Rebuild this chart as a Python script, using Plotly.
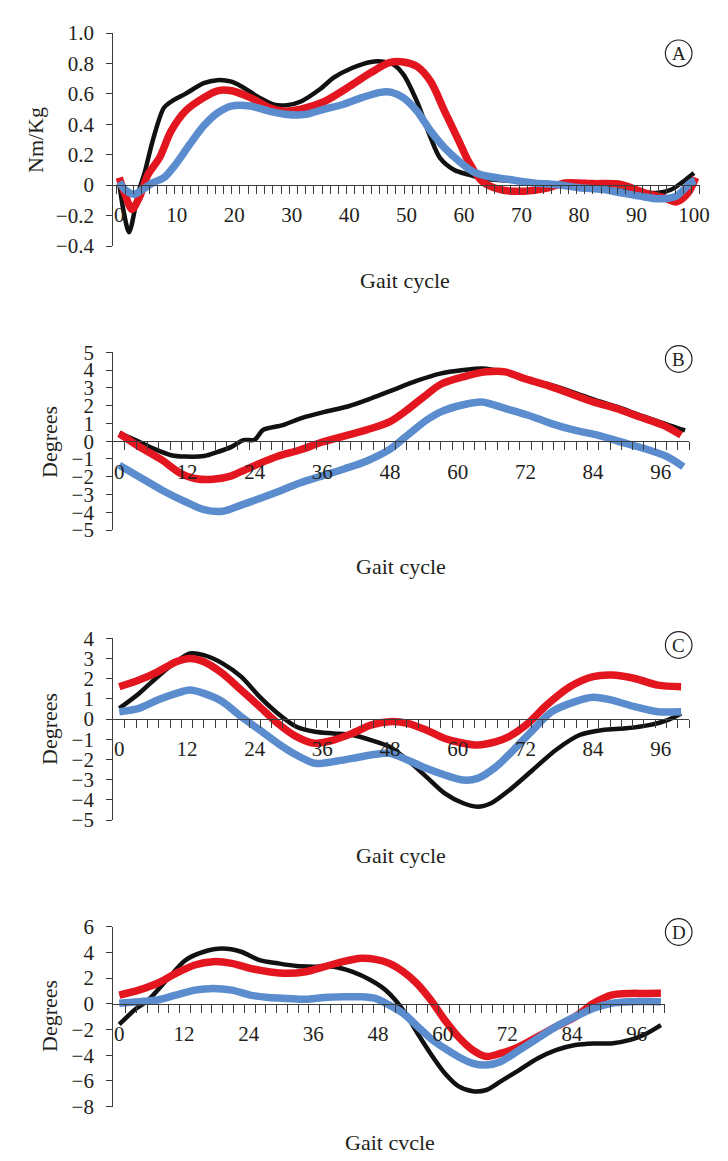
import plotly.graph_objects as go

W, H = 728, 1161
OFF = 8  # page body margin of the browser

# ---------------- DATA ----------------
# Panel A (Nm/Kg)
A_black_x = [0, 0.7, 1.7, 3.3, 4.4, 5.8, 7.8, 9.5, 11.5, 14.7, 17, 19.5, 21.2, 24.4, 26.8, 29.2, 31.6, 34.9, 37.3, 40.5, 43.8, 46.2, 47.8, 49.4, 51.8, 54.2, 55.8, 58.3, 60.7, 63.9, 70, 80, 88, 93.8, 96, 98, 100]
A_black_y = [0.01, -0.16, -0.31, -0.05, 0.08, 0.29, 0.51, 0.56, 0.6, 0.67, 0.69, 0.68, 0.65, 0.575, 0.53, 0.526, 0.55, 0.63, 0.706, 0.77, 0.81, 0.81, 0.79, 0.73, 0.55, 0.31, 0.18, 0.10, 0.07, 0.04, 0.025, 0.0, -0.04, -0.05, -0.03, 0.02, 0.08]
A_red_x = [0, 1, 2.2, 3.5, 5, 7, 9, 11.5, 14.7, 17.1, 19.5, 22.8, 26, 28.4, 31.6, 35.7, 39.7, 43.8, 47, 49.4, 51.8, 54.2, 56.6, 59.1, 60.7, 63.1, 66.3, 70.4, 74.4, 77.6, 82.5, 87.3, 91.4, 94.6, 97, 99, 100.3]
A_red_y = [0.05, -0.06, -0.16, -0.08, 0.07, 0.18, 0.355, 0.487, 0.575, 0.62, 0.62, 0.575, 0.51, 0.487, 0.5, 0.55, 0.64, 0.74, 0.805, 0.81, 0.78, 0.68, 0.487, 0.29, 0.16, 0.026, -0.03, -0.04, -0.02, 0.015, 0.01, 0.005, -0.05, -0.08, -0.11, -0.05, 0.05]
A_blue_x = [0, 1, 2.5, 4, 5.8, 7.8, 9.8, 12.3, 14.7, 17.1, 19.5, 22.8, 26, 29.2, 32.4, 35.7, 38.9, 42.2, 45.4, 47.4, 49.4, 51.8, 54.2, 56.6, 59.1, 61.5, 63.9, 67.9, 71.9, 76, 80, 84, 87.3, 90.6, 93.8, 97, 99.4, 100.2]
A_blue_y = [0.02, -0.03, -0.06, -0.03, 0.015, 0.05, 0.136, 0.27, 0.39, 0.475, 0.52, 0.52, 0.487, 0.465, 0.465, 0.5, 0.53, 0.575, 0.61, 0.61, 0.575, 0.487, 0.355, 0.245, 0.158, 0.09, 0.06, 0.037, 0.015, 0.004, -0.017, -0.028, -0.05, -0.072, -0.09, -0.07, 0.015, 0.03]

# Panel B (Degrees)
B_black_x = [0, 3.5, 6, 9.2, 11.7, 15, 17.5, 19.9, 22, 24, 25.5, 29, 32.3, 36.4, 40.5, 44.6, 48.7, 52.8, 56.9, 61, 64.3, 68, 72, 76, 80, 84, 88, 92, 96, 98, 100.3]
B_black_y = [0.45, -0.04, -0.41, -0.79, -0.87, -0.84, -0.6, -0.32, 0.06, 0.08, 0.63, 0.9, 1.3, 1.65, 1.95, 2.4, 2.9, 3.4, 3.8, 4.0, 4.09, 3.9, 3.5, 3.2, 2.8, 2.35, 1.95, 1.5, 1.05, 0.85, 0.6]
B_red_x = [0, 3.5, 7.6, 10.9, 13.4, 16.6, 19.9, 22.4, 24.9, 28.1, 32, 36, 40, 44, 48, 51, 54, 57, 61, 65, 68.4, 71.7, 75.8, 79.9, 84, 88.1, 92.2, 96.4, 99.6]
B_red_y = [0.43, -0.3, -1.07, -1.82, -2.1, -2.15, -1.95, -1.6, -1.25, -0.85, -0.5, -0.05, 0.3, 0.65, 1.1, 1.75, 2.5, 3.2, 3.62, 3.9, 3.9, 3.53, 3.15, 2.68, 2.21, 1.84, 1.37, 0.9, 0.34]
B_blue_x = [0, 3.5, 7.6, 11.7, 15, 18.3, 21.6, 24.9, 28.1, 32, 36, 40, 44, 48, 51.5, 54.5, 57, 61, 64.3, 68.4, 72.5, 76.6, 80.7, 84.8, 88.9, 93, 97.2, 100]
B_blue_y = [-1.35, -2.0, -2.76, -3.41, -3.85, -3.95, -3.6, -3.23, -2.85, -2.35, -1.95, -1.55, -1.1, -0.45, 0.44, 1.19, 1.65, 2.05, 2.2, 1.84, 1.46, 0.99, 0.62, 0.34, -0.04, -0.41, -0.88, -1.44]

# Panel C (Degrees)
C_black_x = [0, 3.5, 6.8, 10.1, 12.5, 15, 18.3, 21.6, 24.9, 28.1, 31.4, 34.7, 38, 41.3, 44.6, 47.9, 51.1, 54.4, 57.7, 61, 63.5, 65.9, 69.2, 73.3, 77.4, 81.6, 85.7, 89.8, 93.9, 97.2, 99.6]
C_black_y = [0.53, 1.27, 2.1, 2.84, 3.25, 3.17, 2.76, 2.1, 1.1, 0.28, -0.38, -0.63, -0.71, -0.79, -1.04, -1.37, -2.03, -2.85, -3.68, -4.17, -4.34, -4.17, -3.51, -2.52, -1.53, -0.79, -0.54, -0.46, -0.3, -0.05, 0.28]
C_red_x = [0, 3.5, 6.8, 10.1, 12.5, 15, 18.3, 21.6, 24.9, 28.1, 31.4, 34.7, 38, 41.3, 44.6, 47.9, 51.1, 54.4, 57.7, 61, 63.5, 66.8, 69.2, 72.5, 75.8, 79.9, 84, 87.3, 91.4, 95.5, 99.6]
C_red_y = [1.6, 1.93, 2.34, 2.84, 3.0, 2.84, 2.26, 1.44, 0.61, -0.21, -0.87, -1.2, -1.04, -0.71, -0.3, -0.13, -0.21, -0.54, -0.96, -1.2, -1.29, -1.12, -0.85, -0.2, 0.7, 1.6, 2.1, 2.18, 2.01, 1.68, 1.6]
C_blue_x = [0, 3.5, 6.8, 10.1, 12.5, 15, 18.3, 21.6, 24.9, 28.1, 31.4, 34.7, 38, 41.3, 44.6, 47.9, 51.1, 54.4, 57.7, 61, 63.5, 66.8, 70, 73.3, 76.6, 80.7, 84, 87.3, 91.4, 95.5, 99.6]
C_blue_y = [0.36, 0.53, 0.94, 1.27, 1.44, 1.27, 0.86, 0.12, -0.54, -1.2, -1.78, -2.19, -2.11, -1.95, -1.78, -1.7, -2.03, -2.44, -2.77, -3.02, -2.94, -2.36, -1.5, -0.55, 0.35, 0.85, 1.08, 0.94, 0.61, 0.36, 0.36]

# Panel D (Degrees)
D_black_x = [0, 3.2, 5.4, 8.8, 12.3, 15.7, 19.1, 22.6, 26, 29.4, 32.9, 36.3, 39.8, 43.2, 46.6, 49.6, 52.7, 55.2, 57.8, 60.4, 62.9, 65.6, 68.1, 70.7, 74.2, 77.6, 81, 84.6, 88, 91.3, 94.8, 97.4, 100.5]
D_black_y = [-1.6, -0.35, 0.3, 1.85, 3.4, 4.05, 4.3, 4.05, 3.4, 3.15, 2.94, 2.89, 2.89, 2.5, 1.85, 1.0, -0.5, -2.2, -3.9, -5.4, -6.4, -6.8, -6.7, -6.05, -5.15, -4.25, -3.6, -3.2, -3.08, -3.08, -2.8, -2.4, -1.65]
D_red_x = [0, 3.6, 7.1, 10.5, 14, 17.4, 20.9, 24.3, 27.7, 31.2, 34.6, 38.1, 41.5, 44.9, 47.5, 50.1, 52.7, 55.2, 57.8, 60.4, 62.9, 65.6, 68.1, 70.7, 74.2, 77.6, 81, 84.6, 88, 91.3, 94.8, 97.4, 100.5]
D_red_y = [0.68, 1.07, 1.6, 2.37, 3.02, 3.28, 3.15, 2.76, 2.5, 2.37, 2.5, 2.89, 3.28, 3.54, 3.46, 3.15, 2.5, 1.6, 0.3, -1.26, -2.56, -3.6, -4.1, -3.86, -3.34, -2.56, -1.78, -1.0, 0.04, 0.68, 0.81, 0.81, 0.82]
D_blue_x = [0, 3.6, 7.1, 10.5, 14, 17.4, 20.9, 24.3, 27.7, 31.2, 34.6, 38.1, 41.5, 44.9, 47.5, 50.1, 52.7, 55.2, 57.8, 60.4, 62.9, 65.6, 68.1, 70.7, 74.2, 77.6, 81, 84.6, 88, 91.3, 94.8, 100.5]
D_blue_y = [0.04, 0.17, 0.3, 0.68, 1.07, 1.2, 1.07, 0.68, 0.5, 0.42, 0.35, 0.5, 0.55, 0.55, 0.42, -0.1, -0.74, -1.7, -2.7, -3.47, -4.11, -4.63, -4.76, -4.5, -3.6, -2.69, -1.78, -1.0, -0.35, 0.04, 0.17, 0.17]

# Axis labels / ticks
A_yticks = [-0.4, -0.2, 0, 0.2, 0.4, 0.6, 0.8, 1.0]
A_ytext = ["\u22120.4", "\u22120.2", "0", "0.2", "0.4", "0.6", "0.8", "1.0"]
B_yticks = [-5, -4, -3, -2, -1, 0, 1, 2, 3, 4, 5]
C_yticks = [-5, -4, -3, -2, -1, 0, 1, 2, 3, 4]
D_yticks = [-8, -6, -4, -2, 0, 2, 4, 6]
A_xticks = [0, 10, 20, 30, 40, 50, 60, 70, 80, 90, 100]
BCD_xticks = [0, 12, 24, 36, 48, 60, 72, 84, 96]

panel_letters = ["A", "B", "C", "D"]
y_titles = ["Nm/Kg", "Degrees", "Degrees", "Degrees"]
x_titles = ["Gait cycle", "Gait cycle", "Gait cycle", "Gait cvcle"]

# ---------------- STYLE / LAYOUT ----------------
FONT = "Liberation Serif, Times New Roman, serif"
TXT = "#231f20"
AX = "#3c3c3c"
COL_BLACK = "#111111"
COL_RED = "#E3161F"
COL_BLUE = "#5B8DCE"

FW, FH = W - OFF, H - OFF  # figure size so that figure + page margin == window


def fy(p):
    return 1 - (p - OFF) / FH


def fx(p):
    return (p - OFF) / FW


def minus(v):
    s = f"{v:g}"
    return s.replace("-", "\u2212")


panels = [
    dict(series=[(A_black_x, A_black_y), (A_red_x, A_red_y), (A_blue_x, A_blue_y)],
         ypix=(33, 246), yr=(-0.4, 1.0), yt=A_yticks, ytt=A_ytext,
         xpix=(113.3, 699.7), xr=(-1.04, 101.0), xt=A_xticks, tickstep=10 / 7,
         xtitle=(405, 281), ytitle=(35, 140), circ=(678.7, 53.3)),
    dict(series=[(B_black_x, B_black_y), (B_red_x, B_red_y), (B_blue_x, B_blue_y)],
         ypix=(352.3, 530), yr=(-5, 5), yt=B_yticks, ytt=[minus(v) for v in B_yticks],
         xpix=(113.3, 689), xr=(-1.06, 101.0), xt=BCD_xticks, tickstep=2,
         xtitle=(401, 566), ytitle=(49, 442), circ=(678.7, 359)),
    dict(series=[(C_black_x, C_black_y), (C_red_x, C_red_y), (C_blue_x, C_blue_y)],
         ypix=(638.3, 820), yr=(-5, 4), yt=C_yticks, ytt=[minus(v) for v in C_yticks],
         xpix=(113.3, 689), xr=(-1.06, 101.0), xt=BCD_xticks, tickstep=2,
         xtitle=(401, 855), ytitle=(49, 729), circ=(678.7, 645)),
    dict(series=[(D_black_x, D_black_y), (D_red_x, D_red_y), (D_blue_x, D_blue_y)],
         ypix=(926.7, 1106.7), yr=(-8, 6), yt=D_yticks, ytt=[minus(v) for v in D_yticks],
         xpix=(113.3, 664.7), xr=(-1.11, 101.2), xt=BCD_xticks, tickstep=2,
         xtitle=(390, 1142), ytitle=(49, 1016), circ=(678.7, 932)),
]

colors = [COL_BLACK, COL_RED, COL_BLUE]
widths = [4.5, 7.5, 7.5]

fig = go.Figure()
layout = dict(template="none", width=FW, height=FH,
              margin=dict(l=0, r=0, t=0, b=0, pad=0, autoexpand=False),
              paper_bgcolor="white", plot_bgcolor="white", showlegend=False,
              font=dict(family=FONT, color=TXT))
shapes = []
annotations = []

for i, p in enumerate(panels):
    n = i + 1
    xa = "x" if n == 1 else f"x{n}"
    ya = "y" if n == 1 else f"y{n}"
    xt_name = f"x{n + 4}"  # overlay axis (same domain & range) carrying the small tick marks
    for k, ((sx, sy), c, w) in enumerate(zip(p["series"], colors, widths)):
        fig.add_trace(go.Scatter(x=sx, y=sy, mode="lines",
                                 xaxis=(xt_name if k == 2 else xa), yaxis=ya,
                                 line=dict(color=c, width=w, shape="spline", smoothing=0.8),
                                 hoverinfo="skip"))
    y0p, y1p = p["ypix"]
    ymin, ymax = p["yr"]
    zero_pix = y0p + (ymax - 0) / (ymax - ymin) * (y1p - y0p)
    step = p["tickstep"]
    mt = []
    v = p["xr"][1]
    while v > p["xr"][0] + 0.5:
        mt.append(round(v, 4))
        v -= step
    xdom = [fx(p["xpix"][0]), fx(p["xpix"][1])]
    layout["xaxis" if n == 1 else f"xaxis{n}"] = dict(
        domain=xdom, range=list(p["xr"]),
        anchor="free", position=fy(zero_pix), automargin=False,
        showline=True, linecolor=AX, linewidth=1.3, showgrid=False, zeroline=False,
        tickmode="array", tickvals=p["xt"], ticktext=[str(t) for t in p["xt"]],
        ticks="outside", ticklen=8, tickcolor="rgba(0,0,0,0)",
        ticklabelstandoff=3,
        tickfont=dict(family=FONT, size=21, color=TXT),
    )
    layout[f"xaxis{n + 4}"] = dict(
        domain=xdom, range=list(p["xr"]), overlaying=xa,
        anchor="free", position=fy(zero_pix), automargin=False, side="bottom",
        showline=False, showgrid=False, zeroline=False, showticklabels=False,
        tickmode="array", tickvals=mt,
        ticks="outside", ticklen=8, tickwidth=1.2, tickcolor=AX,
    )
    layout["yaxis" if n == 1 else f"yaxis{n}"] = dict(
        domain=[fy(y1p), fy(y0p)], range=[ymin, ymax], anchor=xa, automargin=False,
        showline=True, linecolor=AX, linewidth=1.3, showgrid=False, zeroline=False,
        tickmode="array", tickvals=p["yt"], ticktext=p["ytt"],
        ticks="outside", ticklen=6, tickwidth=1.2, tickcolor=AX,
        ticklabelstandoff=8,
        tickfont=dict(family=FONT, size=21, color=TXT),
    )
    annotations.append(dict(x=fx(p["xtitle"][0]), y=fy(p["xtitle"][1]), xref="paper", yref="paper",
                            text=x_titles[i], showarrow=False, xanchor="center", yanchor="middle",
                            font=dict(family=FONT, size=22, color=TXT)))
    annotations.append(dict(x=fx(p["ytitle"][0]), y=fy(p["ytitle"][1]), xref="paper", yref="paper",
                            text=y_titles[i], showarrow=False, textangle=-90,
                            xanchor="center", yanchor="middle",
                            font=dict(family=FONT, size=22, color=TXT)))
    cx, cy = p["circ"]
    r = 13.3
    shapes.append(dict(type="circle", xref="paper", yref="paper",
                       x0=fx(cx - r), x1=fx(cx + r), y0=fy(cy + r), y1=fy(cy - r),
                       line=dict(color=TXT, width=1.2)))
    annotations.append(dict(x=fx(cx), y=fy(cy), xref="paper", yref="paper",
                            text=panel_letters[i], showarrow=False, xanchor="center", yanchor="middle",
                            font=dict(family=FONT, size=19, color=TXT)))

layout["shapes"] = shapes
layout["annotations"] = annotations
fig.update_layout(**layout)
fig.write_html("out.html")
